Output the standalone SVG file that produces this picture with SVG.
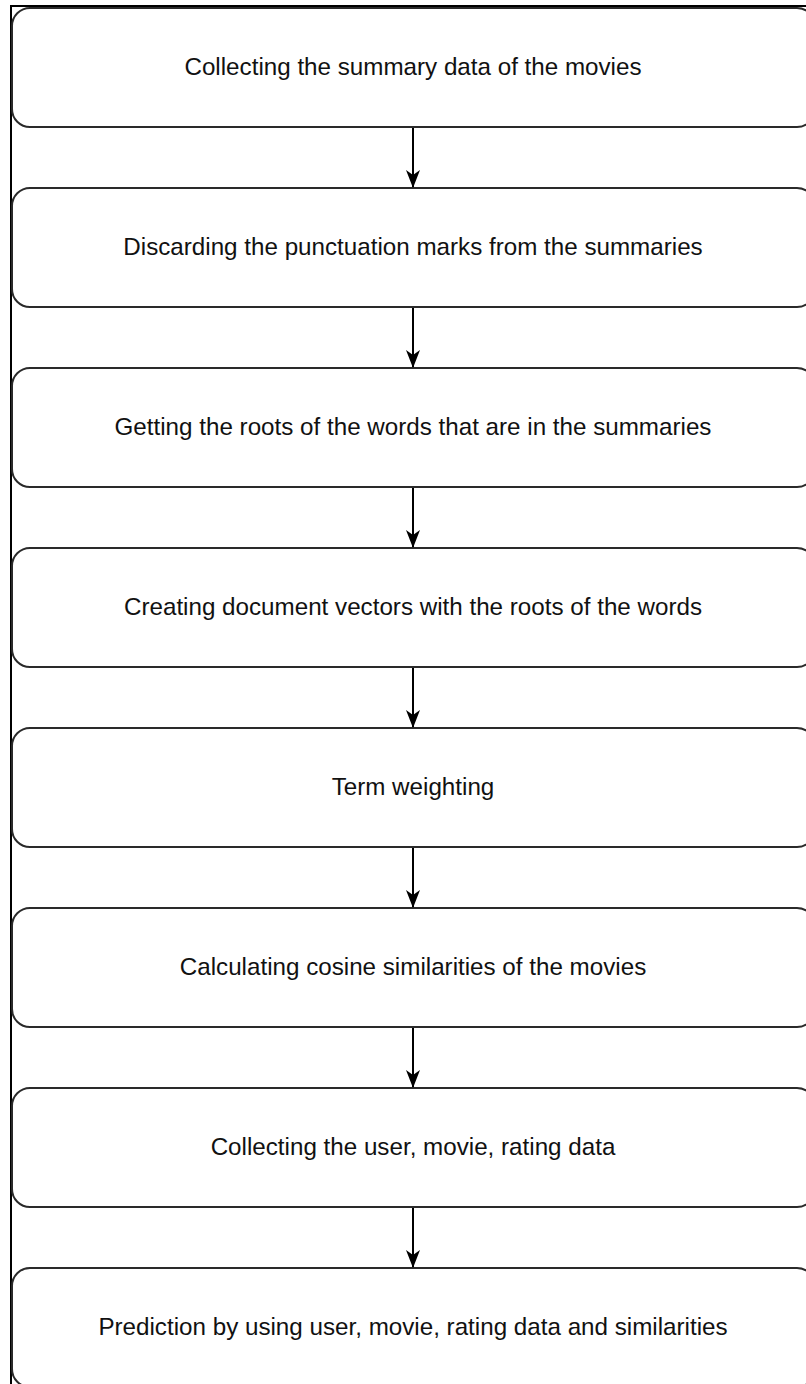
<svg xmlns="http://www.w3.org/2000/svg" width="806" height="1384" viewBox="0 0 806 1384">
<style>
.box{fill:#fff;stroke:#2a2a2a;stroke-width:2}
.lbl{font-family:"Liberation Sans",Arial,sans-serif;font-size:24.2px;fill:#111;text-anchor:middle}
.edge{stroke:#000;stroke-width:2;fill:none}
</style>
<defs>
<marker id="arr" markerWidth="18" markerHeight="14" refX="17" refY="7" orient="auto" markerUnits="userSpaceOnUse" viewBox="0 0 18 14">
<path d="M18 7 L0 0 L5 7 L0 14 Z" fill="#000"/>
</marker>
</defs>
<rect x="0" y="0" width="806" height="1384" fill="#fff"/>
<rect x="11" y="6" width="830" height="1400" fill="none" stroke="#000" stroke-width="2"/>
<g id="n1"><rect class="box" x="12" y="8" width="803" height="119" rx="18"/><text class="lbl" x="413" y="75">Collecting the summary data of the movies</text></g>
<g id="n2"><rect class="box" x="12" y="188" width="803" height="119" rx="18"/><text class="lbl" x="413" y="255">Discarding the punctuation marks from the summaries</text></g>
<g id="n3"><rect class="box" x="12" y="368" width="803" height="119" rx="18"/><text class="lbl" x="413" y="435">Getting the roots of the words that are in the summaries</text></g>
<g id="n4"><rect class="box" x="12" y="548" width="803" height="119" rx="18"/><text class="lbl" x="413" y="615">Creating document vectors with the roots of the words</text></g>
<g id="n5"><rect class="box" x="12" y="728" width="803" height="119" rx="18"/><text class="lbl" x="413" y="795">Term weighting</text></g>
<g id="n6"><rect class="box" x="12" y="908" width="803" height="119" rx="18"/><text class="lbl" x="413" y="975">Calculating cosine similarities of the movies</text></g>
<g id="n7"><rect class="box" x="12" y="1088" width="803" height="119" rx="18"/><text class="lbl" x="413" y="1155">Collecting the user, movie, rating data</text></g>
<g id="n8"><rect class="box" x="12" y="1268" width="803" height="119" rx="18"/><text class="lbl" x="413" y="1335">Prediction by using user, movie, rating data and similarities</text></g>
<g id="edges">
<line class="edge" x1="413" y1="128" x2="413" y2="187" marker-end="url(#arr)"/>
<line class="edge" x1="413" y1="308" x2="413" y2="367" marker-end="url(#arr)"/>
<line class="edge" x1="413" y1="488" x2="413" y2="547" marker-end="url(#arr)"/>
<line class="edge" x1="413" y1="668" x2="413" y2="727" marker-end="url(#arr)"/>
<line class="edge" x1="413" y1="848" x2="413" y2="907" marker-end="url(#arr)"/>
<line class="edge" x1="413" y1="1028" x2="413" y2="1087" marker-end="url(#arr)"/>
<line class="edge" x1="413" y1="1208" x2="413" y2="1267" marker-end="url(#arr)"/>
</g>
</svg>
